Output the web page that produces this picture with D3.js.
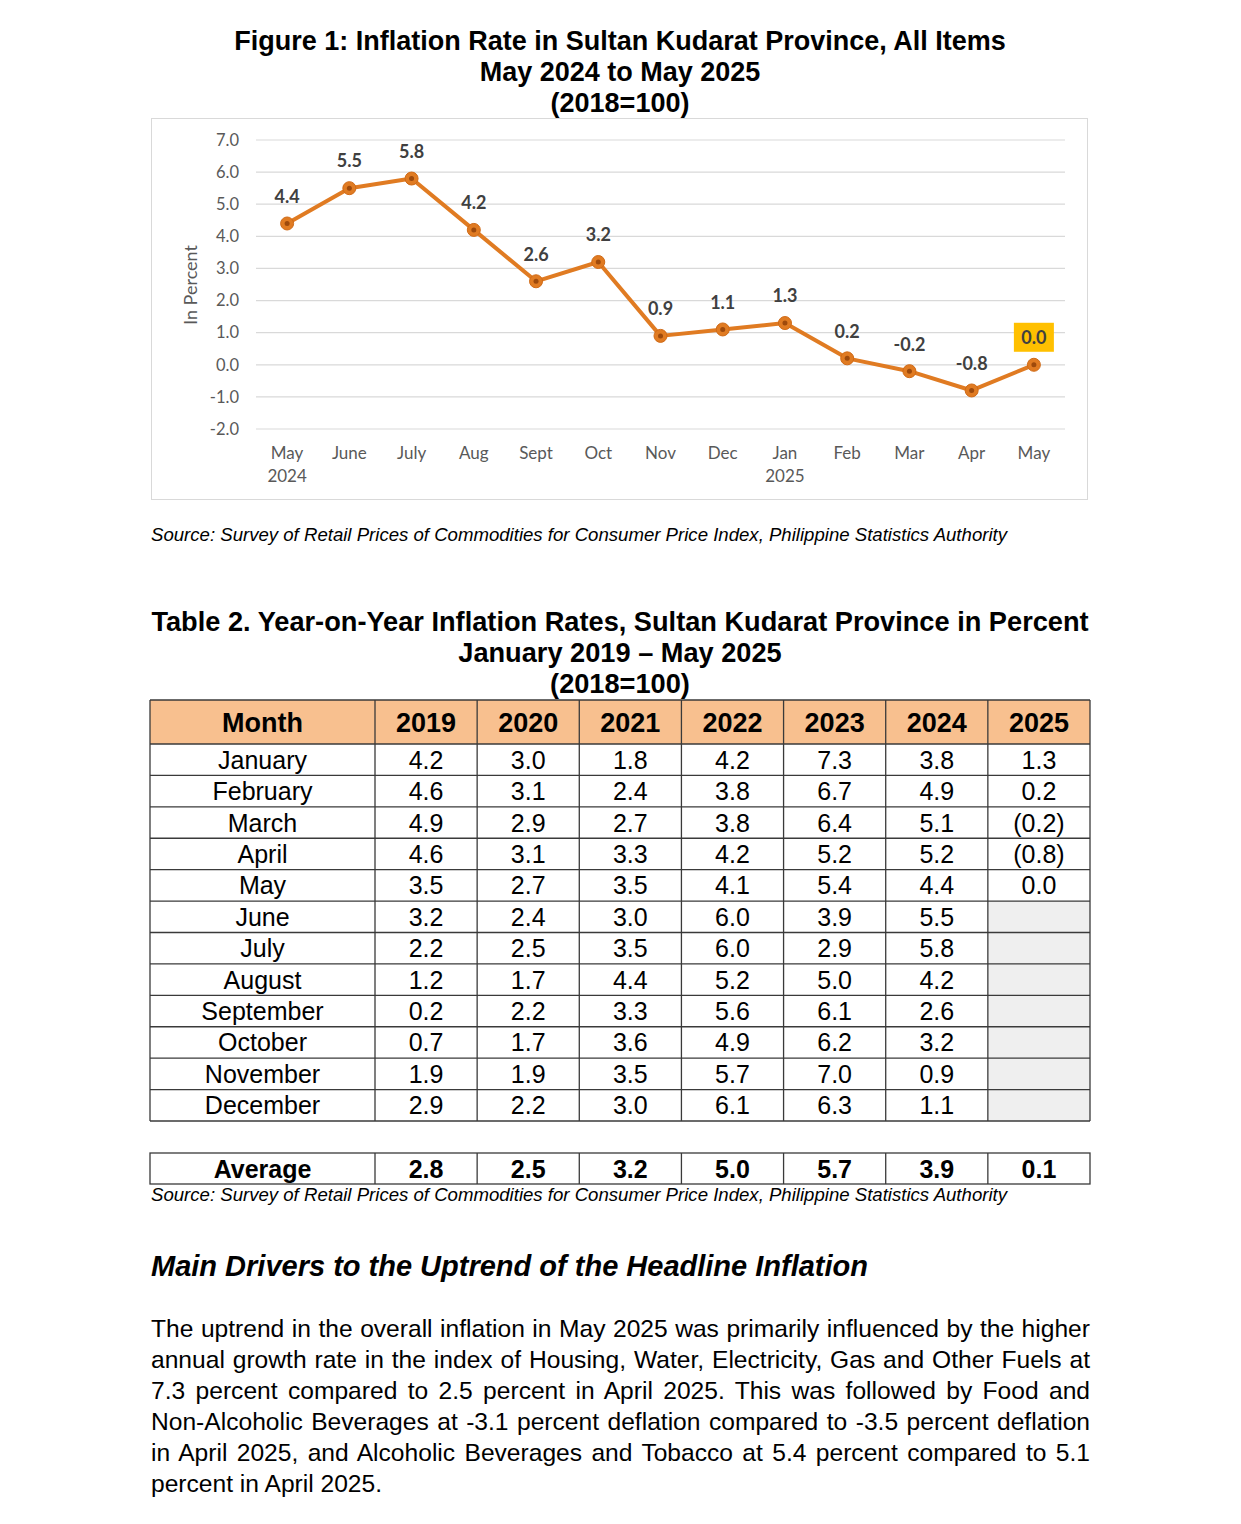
<!DOCTYPE html>
<html>
<head>
<meta charset="utf-8">
<script src="https://cdn.jsdelivr.net/npm/d3@7"></script>
<style>
  body { margin: 0; background: #fff; }
  #page { position: relative; width: 1241px; height: 1524px; }
  #page svg { position: absolute; left: 0; top: 0; }
  .para { position: absolute; left: 151px; width: 939px; font-family: "Liberation Sans", Arial, sans-serif;
          font-size: 24.6px; line-height: 31px; color: #000; }
  .para div { text-align: justify; text-align-last: justify; white-space: nowrap; }
  .para div.last { text-align-last: left; }
</style>
</head>
<body>
<div id="page"></div>
<script>
// chart data
var monthLabels = ['May', 'June', 'July', 'Aug', 'Sept', 'Oct', 'Nov', 'Dec', 'Jan', 'Feb', 'Mar', 'Apr', 'May'];
var yearLabels = ['2024', '', '', '', '', '', '', '', '2025', '', '', '', ''];
var inflation = [4.4, 5.5, 5.8, 4.2, 2.6, 3.2, 0.9, 1.1, 1.3, 0.2, -0.2, -0.8, 0.0];
var yTicks = [-2, -1, 0, 1, 2, 3, 4, 5, 6, 7];

// table data
var tableMonths = ['January', 'February', 'March', 'April', 'May', 'June', 'July',
                   'August', 'September', 'October', 'November', 'December'];
var tableYears = ['2019', '2020', '2021', '2022', '2023', '2024', '2025'];
var rates2019 = [4.2, 4.6, 4.9, 4.6, 3.5, 3.2, 2.2, 1.2, 0.2, 0.7, 1.9, 2.9];
var rates2020 = [3.0, 3.1, 2.9, 3.1, 2.7, 2.4, 2.5, 1.7, 2.2, 1.7, 1.9, 2.2];
var rates2021 = [1.8, 2.4, 2.7, 3.3, 3.5, 3.0, 3.5, 4.4, 3.3, 3.6, 3.5, 3.0];
var rates2022 = [4.2, 3.8, 3.8, 4.2, 4.1, 6.0, 6.0, 5.2, 5.6, 4.9, 5.7, 6.1];
var rates2023 = [7.3, 6.7, 6.4, 5.2, 5.4, 3.9, 2.9, 5.0, 6.1, 6.2, 7.0, 6.3];
var rates2024 = [3.8, 4.9, 5.1, 5.2, 4.4, 5.5, 5.8, 4.2, 2.6, 3.2, 0.9, 1.1];
var rates2025 = [1.3, 0.2, -0.2, -0.8, 0.0];
var averages = [2.8, 2.5, 3.2, 5.0, 5.7, 3.9, 0.1];

var paragraph = [
  'The uptrend in the overall inflation in May 2025 was primarily influenced by the higher',
  'annual growth rate in the index of Housing, Water, Electricity, Gas and Other Fuels at',
  '7.3 percent compared to 2.5 percent in April 2025. This was followed by Food and',
  'Non-Alcoholic Beverages at -3.1 percent deflation compared to -3.5 percent deflation',
  'in April 2025, and Alcoholic Beverages and Tobacco at 5.4 percent compared to 5.1',
  'percent in April 2025.'
];

var arial = '"Liberation Sans", Arial, sans-serif';
var calibri = 'Lato, "Open Sans", sans-serif';
var orange = '#E07B22';

// plain hyphen for negatives, like the source
var f1 = d3.formatLocale({ decimal: '.', thousands: ',', grouping: [3], currency: ['', ''], minus: '-' }).format('.1f');

var svg = d3.select('#page').append('svg')
            .attr('width', 1241)
            .attr('height', 1524);

// titles
function title(lines, y0, size) {
  svg.selectAll(null)
     .data(lines)
     .enter()
     .append('text')
       .attr('x', 620)
       .attr('y', function(d, i) { return y0 + i * 31; })
       .attr('text-anchor', 'middle')
       .style('font-family', arial)
       .style('font-weight', 'bold')
       .style('font-size', size + 'px')
       .text(function(d) { return d; });
}
title(['Figure 1: Inflation Rate in Sultan Kudarat Province, All Items', 'May 2024 to May 2025', '(2018=100)'], 50, 27);

// chart frame
svg.append('rect')
   .attr('x', 151.5).attr('y', 118.5)
   .attr('width', 936).attr('height', 381)
   .attr('fill', '#fff')
   .attr('stroke', '#D9D9D9');

var x = d3.scaleBand().domain(d3.range(inflation.length)).range([256, 1065]);
var y = d3.scaleLinear().domain([-2, 7]).range([429, 140]);

svg.selectAll('line.grid')
   .data(yTicks)
   .enter()
   .append('line')
     .attr('class', 'grid')
     .attr('x1', 256).attr('x2', 1065)
     .attr('y1', function(d) { return y(d); })
     .attr('y2', function(d) { return y(d); })
     .attr('stroke', '#D9D9D9')
     .attr('stroke-width', 1.2);

svg.selectAll('text.ytick')
   .data(yTicks)
   .enter()
   .append('text')
     .attr('x', 239)
     .attr('y', function(d) { return y(d); })
     .attr('dy', '0.35em')
     .attr('text-anchor', 'end')
     .attr('fill', '#595959')
     .style('font-family', calibri)
     .style('font-size', '16.5px')
     .text(function(d) { return f1(d); });

svg.append('text')
   .attr('transform', 'translate(191,285) rotate(-90)')
   .attr('text-anchor', 'middle')
   .attr('dy', '0.35em')
   .attr('fill', '#595959')
   .style('font-family', calibri)
   .style('font-size', '18px')
   .text('In Percent');

var cx = function(d, i) { return x(i) + x.bandwidth() / 2; };

svg.selectAll('text.xtick')
   .data(monthLabels)
   .enter()
   .append('text')
     .attr('x', cx)
     .attr('y', 459)
     .attr('text-anchor', 'middle')
     .attr('fill', '#595959')
     .style('font-family', calibri)
     .style('font-size', '17px')
     .text(function(d) { return d; });

svg.selectAll('text.xyear')
   .data(yearLabels)
   .enter()
   .append('text')
     .attr('x', cx)
     .attr('y', 482)
     .attr('text-anchor', 'middle')
     .attr('fill', '#595959')
     .style('font-family', calibri)
     .style('font-size', '17px')
     .text(function(d) { return d; });

var line = d3.line()
             .x(function(d, i) { return x(i) + x.bandwidth() / 2; })
             .y(function(d) { return y(d); });

svg.append('path')
   .datum(inflation)
   .attr('d', line)
   .attr('fill', 'none')
   .attr('stroke', orange)
   .attr('stroke-width', 4)
   .attr('stroke-linejoin', 'round');

svg.selectAll('circle.marker')
   .data(inflation)
   .enter()
   .append('circle')
     .attr('cx', cx)
     .attr('cy', function(d) { return y(d); })
     .attr('r', 6.5)
     .attr('fill', orange)
     .attr('stroke', '#D06A16')
     .attr('stroke-width', 1);

svg.selectAll('circle.dot')
   .data(inflation)
   .enter()
   .append('circle')
     .attr('cx', cx)
     .attr('cy', function(d) { return y(d); })
     .attr('r', 2.5)
     .attr('fill', '#9E4A0C');

// highlight box for the latest month
var last = inflation.length - 1;
svg.append('rect')
   .attr('x', x(last) + x.bandwidth() / 2 - 20)
   .attr('y', y(inflation[last]) - 42)
   .attr('width', 40)
   .attr('height', 29)
   .attr('fill', '#FFC000');

svg.selectAll('text.value')
   .data(inflation)
   .enter()
   .append('text')
     .attr('x', cx)
     .attr('y', function(d) { return y(d) - 27; })
     .attr('dy', '0.35em')
     .attr('text-anchor', 'middle')
     .attr('fill', '#404040')
     .style('font-family', calibri)
     .style('font-weight', 'bold')
     .style('font-size', '18px')
     .text(function(d) { return f1(d); });

function source(yPos) {
  svg.append('text')
     .attr('x', 151)
     .attr('y', yPos)
     .style('font-family', arial)
     .style('font-style', 'italic')
     .style('font-size', '18.6px')
     .text('Source: Survey of Retail Prices of Commodities for Consumer Price Index, Philippine Statistics Authority');
}
source(541);

// table
title(['Table 2. Year-on-Year Inflation Rates, Sultan Kudarat Province in Percent', 'January 2019 \u2013 May 2025', '(2018=100)'], 631, 27.2);

var columns = [rates2019, rates2020, rates2021, rates2022, rates2023, rates2024, rates2025];
var colX = d3.scaleBand().domain(tableYears).range([375, 1090]);
var rowY = d3.scaleBand().domain(tableMonths).range([744, 1121]);
var tableLeft = 150, monthRight = 375, tableRight = 1090;
var border = '#3A3A3A';

var fmt = function(v) { return v < 0 ? '(' + f1(-v) + ')' : f1(v); };

// header
svg.append('rect')
   .attr('x', tableLeft).attr('y', 700)
   .attr('width', tableRight - tableLeft).attr('height', 44)
   .attr('fill', '#F8C08F');

// gray cells where 2025 has no data yet
svg.selectAll('rect.empty')
   .data(tableMonths.slice(rates2025.length))
   .enter()
   .append('rect')
     .attr('x', colX('2025'))
     .attr('y', function(d) { return rowY(d); })
     .attr('width', colX.bandwidth())
     .attr('height', rowY.bandwidth())
     .attr('fill', '#EFEFEF');

var headerText = ['Month'].concat(tableYears);
svg.selectAll('text.head')
   .data(headerText)
   .enter()
   .append('text')
     .attr('x', function(d, i) { return i ? colX(d) + colX.bandwidth() / 2 : (tableLeft + monthRight) / 2; })
     .attr('y', 722)
     .attr('dy', '0.36em')
     .attr('text-anchor', 'middle')
     .style('font-family', arial)
     .style('font-weight', 'bold')
     .style('font-size', '27px')
     .text(function(d) { return d; });

svg.selectAll('text.month')
   .data(tableMonths)
   .enter()
   .append('text')
     .attr('x', (tableLeft + monthRight) / 2)
     .attr('y', function(d) { return rowY(d) + rowY.bandwidth() / 2; })
     .attr('dy', '0.36em')
     .attr('text-anchor', 'middle')
     .style('font-family', arial)
     .style('font-size', '25px')
     .text(function(d) { return d; });

columns.forEach(function(col, c) {
  svg.selectAll(null)
     .data(col)
     .enter()
     .append('text')
       .attr('x', colX(tableYears[c]) + colX.bandwidth() / 2)
       .attr('y', function(d, i) { return rowY(tableMonths[i]) + rowY.bandwidth() / 2; })
       .attr('dy', '0.36em')
       .attr('text-anchor', 'middle')
       .style('font-family', arial)
       .style('font-size', '25px')
       .text(fmt);
});

// grid lines of the table
var hLines = [700, 744].concat(tableMonths.map(function(m) { return rowY(m) + rowY.bandwidth(); }));
svg.selectAll('line.h')
   .data(hLines)
   .enter()
   .append('line')
     .attr('x1', tableLeft).attr('x2', tableRight)
     .attr('y1', function(d) { return d; }).attr('y2', function(d) { return d; })
     .attr('stroke', border).attr('stroke-width', 1.3);

var vLines = [tableLeft].concat(tableYears.map(function(yr) { return colX(yr); }), [tableRight]);
svg.selectAll('line.v')
   .data(vLines)
   .enter()
   .append('line')
     .attr('x1', function(d) { return d; }).attr('x2', function(d) { return d; })
     .attr('y1', 700).attr('y2', 1121)
     .attr('stroke', border).attr('stroke-width', 1.3);

// average row
svg.append('rect')
   .attr('x', tableLeft).attr('y', 1153)
   .attr('width', tableRight - tableLeft).attr('height', 31)
   .attr('fill', 'none')
   .attr('stroke', border).attr('stroke-width', 1.3);

svg.selectAll('line.va')
   .data(tableYears)
   .enter()
   .append('line')
     .attr('x1', function(d) { return colX(d); }).attr('x2', function(d) { return colX(d); })
     .attr('y1', 1153).attr('y2', 1184)
     .attr('stroke', border).attr('stroke-width', 1.3);

svg.selectAll('text.avg')
   .data(['Average'].concat(averages))
   .enter()
   .append('text')
     .attr('x', function(d, i) { return i ? colX(tableYears[i - 1]) + colX.bandwidth() / 2 : (tableLeft + monthRight) / 2; })
     .attr('y', 1169)
     .attr('dy', '0.36em')
     .attr('text-anchor', 'middle')
     .style('font-family', arial)
     .style('font-weight', 'bold')
     .style('font-size', '25px')
     .text(function(d, i) { return i ? f1(d) : d; });

source(1201);

svg.append('text')
   .attr('x', 151)
   .attr('y', 1276)
   .style('font-family', arial)
   .style('font-weight', 'bold')
   .style('font-style', 'italic')
   .style('font-size', '29px')
   .text('Main Drivers to the Uptrend of the Headline Inflation');

// justified paragraph
d3.select('#page').append('div')
  .attr('class', 'para')
  .style('top', '1313px')
  .selectAll('div')
  .data(paragraph)
  .enter()
  .append('div')
    .attr('class', function(d, i) { return i === paragraph.length - 1 ? 'last' : null; })
    .text(function(d) { return d; });
</script>
</body>
</html>
